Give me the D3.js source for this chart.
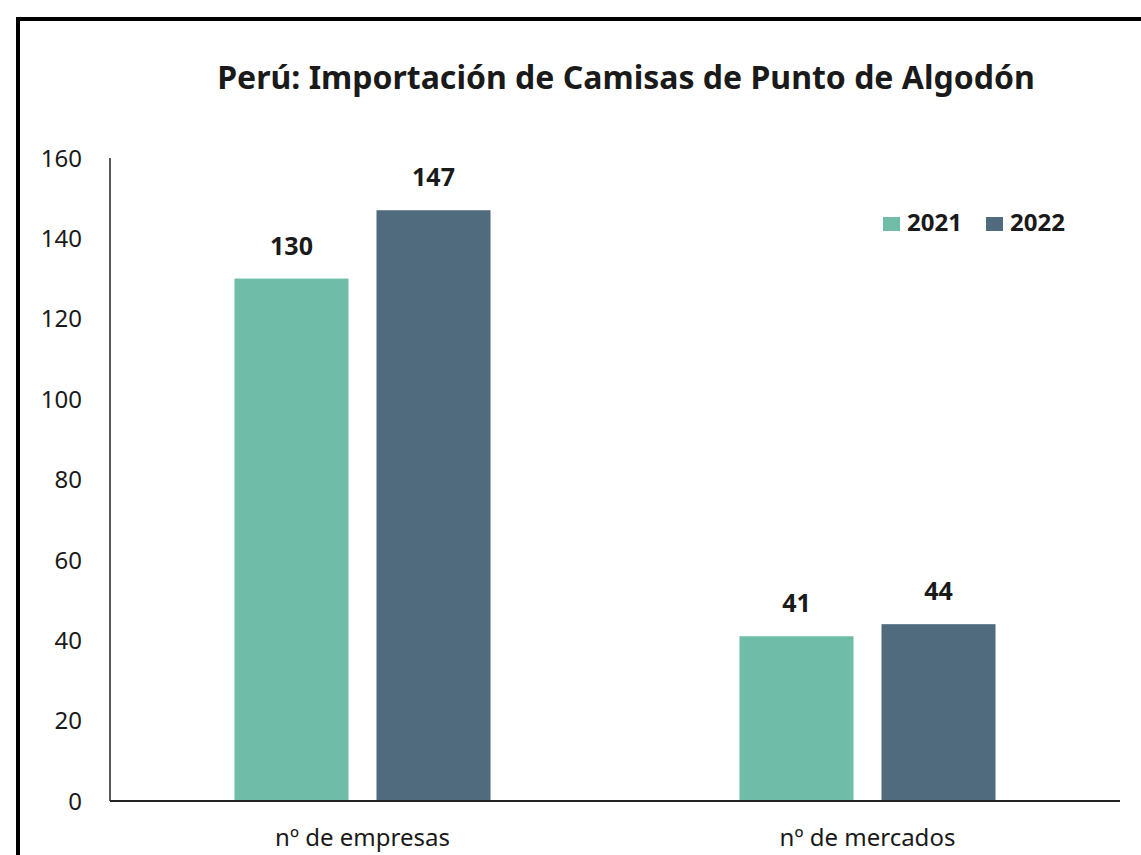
<!DOCTYPE html>
<html>
<head>
<meta charset="utf-8">
<script src="https://cdn.jsdelivr.net/npm/d3@7"></script>
<style>
  body { margin: 0; background: #fff; }
  text { font-family: "Noto Sans", "Open Sans", sans-serif; fill: #1a1a1a; }
</style>
</head>
<body>
<div class="chart"></div>
<script>
var categories = ["n\u00ba de empresas", "n\u00ba de mercados"];
var years = ["2021", "2022"];
var values2021 = [130, 41];
var values2022 = [147, 44];
var yTicks = [0, 20, 40, 60, 80, 100, 120, 140, 160];
var colors = ["#6fbda8", "#4f6b7d"];

var width = 1141, height = 855;
var margin = {top: 158, right: 21, bottom: 54, left: 110};

var data = categories.map(function(c, i) {
    return {category: c, values: [values2021[i], values2022[i]]};
});

var svg = d3.select('.chart')
    .append('svg')
    .attr('width', width)
    .attr('height', height);

// outer frame (runs off the right and bottom edges)
svg.append('rect')
    .attr('x', 18).attr('y', 19)
    .attr('width', 1200).attr('height', 900)
    .attr('fill', 'none')
    .attr('stroke', '#000')
    .attr('stroke-width', 4);

var x0 = d3.scaleBand()
    .domain(categories)
    .range([margin.left, width - margin.right])
    .paddingInner(0.493)
    .paddingOuter(0.2465);

var x1 = d3.scaleBand()
    .domain(years)
    .range([0, x0.bandwidth()])
    .paddingInner(0.197);

var y = d3.scaleLinear()
    .domain([0, 160])
    .range([height - margin.bottom, margin.top]);

var color = d3.scaleOrdinal().domain(years).range(colors);

// title
svg.append('text')
    .attr('x', 626)
    .attr('y', 89)
    .attr('text-anchor', 'middle')
    .style('font-size', '32px')
    .style('font-weight', 'bold')
    .text('Per\u00fa: Importaci\u00f3n de Camisas de Punto de Algod\u00f3n');

// y axis labels
svg.selectAll('.ylab')
    .data(yTicks)
    .enter()
    .append('text')
    .attr('class', 'ylab')
    .attr('x', 82)
    .attr('y', function(d) { return y(d); })
    .attr('dy', '0.36em')
    .attr('text-anchor', 'end')
    .style('font-size', '24px')
    .text(function(d) { return d; });

// bars
var groups = svg.selectAll('.grp')
    .data(data)
    .enter()
    .append('g')
    .attr('transform', function(d) { return 'translate(' + x0(d.category) + ',0)'; });

groups.selectAll('rect')
    .data(function(d) { return d.values.map(function(v, i) { return {year: years[i], value: v}; }); })
    .enter()
    .append('rect')
    .attr('x', function(d) { return x1(d.year); })
    .attr('y', function(d) { return y(d.value); })
    .attr('width', x1.bandwidth())
    .attr('height', function(d) { return y(0) - y(d.value); })
    .attr('fill', function(d) { return color(d.year); });

groups.selectAll('.vlab')
    .data(function(d) { return d.values.map(function(v, i) { return {year: years[i], value: v}; }); })
    .enter()
    .append('text')
    .attr('class', 'vlab')
    .attr('x', function(d) { return x1(d.year) + x1.bandwidth() / 2; })
    .attr('y', function(d) { return y(d.value) - 24; })
    .attr('text-anchor', 'middle')
    .style('font-size', '25px')
    .style('font-weight', 'bold')
    .text(function(d) { return d.value; });

// axes lines
svg.append('line')
    .attr('x1', margin.left).attr('x2', margin.left)
    .attr('y1', y(160)).attr('y2', y(0))
    .attr('stroke', '#222').attr('stroke-width', 1.5);

svg.append('line')
    .attr('x1', margin.left).attr('x2', width - margin.right)
    .attr('y1', y(0)).attr('y2', y(0))
    .attr('stroke', '#222').attr('stroke-width', 2);

// category labels
svg.selectAll('.xlab')
    .data(categories)
    .enter()
    .append('text')
    .attr('x', function(d) { return x0(d) + x0.bandwidth() / 2; })
    .attr('y', 846)
    .attr('text-anchor', 'middle')
    .style('font-size', '24px')
    .text(function(d) { return d; });

// legend
var legend = svg.selectAll('.leg')
    .data(years)
    .enter()
    .append('g')
    .attr('transform', function(d, i) { return 'translate(' + (883 + i * 103) + ',217)'; });

legend.append('rect')
    .attr('width', 17).attr('height', 14)
    .attr('fill', function(d) { return color(d); });

legend.append('text')
    .attr('x', 24)
    .attr('y', 14)
    .style('font-size', '24px')
    .style('font-weight', 'bold')
    .text(function(d) { return d; });
</script>
</body>
</html>
